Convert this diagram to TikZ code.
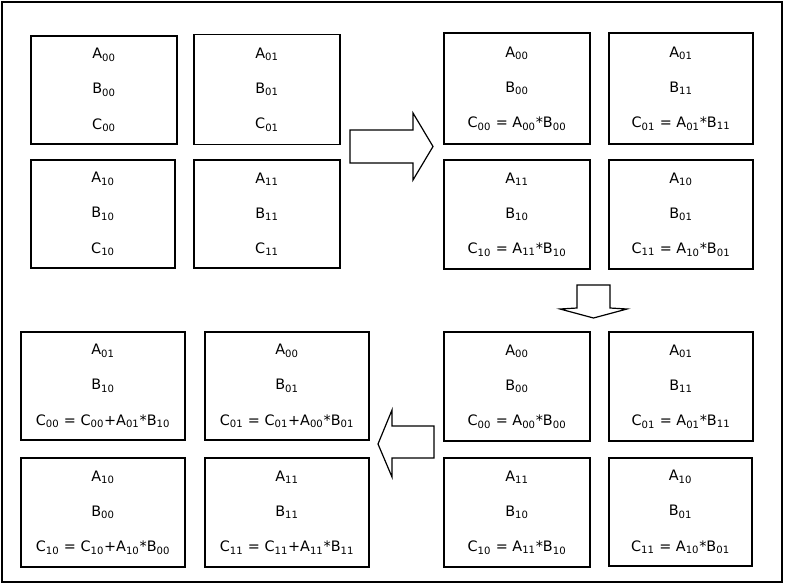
\documentclass[tikz,border=0pt]{standalone}
\usepackage{fontspec}
\setmainfont{DejaVu Sans}
\newcommand\sbs[1]{\textsubscript{#1}}
\newcommand\mcell[8]{%
  \node[cell, minimum width=#4*0.75pt, minimum height=#5*0.75pt] (#1) at (#2,#3) {};
  \node[txt] at ([yshift=26.25pt]#1.center) {#6};
  \node[txt] at (#1.center) {#7};
  \node[txt] at ([yshift=-26.25pt]#1.center) {#8};
}
\tikzset{
  cell/.style={draw=black, line width=1.4pt, rectangle, inner sep=0pt},
  txt/.style={inner sep=0pt, font=\fontsize{10.8}{13}\selectfont, text=black},
  blockarrow/.style={draw=black, line width=0.9pt, fill=white, line join=miter},
  frame/.style={draw=black, line width=1.4pt}
}
\begin{document}
\begin{tikzpicture}[x=0.75pt, y=-0.75pt]
\useasboundingbox (0,0) rectangle (785,586);
\draw[frame] (2,2) rectangle (782,582);
% top left
\mcell{tla}{104}{90}{146}{108}{A\sbs{00}}{B\sbs{00}}{C\sbs{00}}
\mcell{tlb}{267}{89.5}{146}{110}{A\sbs{01}}{B\sbs{01}}{C\sbs{01}}
\mcell{tlc}{103}{214}{144}{108}{A\sbs{10}}{B\sbs{10}}{C\sbs{10}}
\mcell{tld}{267}{214}{146}{108}{A\sbs{11}}{B\sbs{11}}{C\sbs{11}}
% top right
\mcell{tra}{517}{88.5}{146}{111}{A\sbs{00}}{B\sbs{00}}{C\sbs{00} = A\sbs{00}*B\sbs{00}}
\mcell{trb}{681}{88.5}{144}{111}{A\sbs{01}}{B\sbs{11}}{C\sbs{01} = A\sbs{01}*B\sbs{11}}
\mcell{trc}{517}{214.5}{146}{109}{A\sbs{11}}{B\sbs{10}}{C\sbs{10} = A\sbs{11}*B\sbs{10}}
\mcell{trd}{681}{214.5}{144}{109}{A\sbs{10}}{B\sbs{01}}{C\sbs{11} = A\sbs{10}*B\sbs{01}}
% bottom right
\mcell{bra}{517}{386.5}{146}{109}{A\sbs{00}}{B\sbs{00}}{C\sbs{00} = A\sbs{00}*B\sbs{00}}
\mcell{brb}{681}{386.5}{144}{109}{A\sbs{01}}{B\sbs{11}}{C\sbs{01} = A\sbs{01}*B\sbs{11}}
\mcell{brc}{517}{512.5}{146}{109}{A\sbs{11}}{B\sbs{10}}{C\sbs{10} = A\sbs{11}*B\sbs{10}}
\mcell{brd}{680.5}{512}{143}{108}{A\sbs{10}}{B\sbs{01}}{C\sbs{11} = A\sbs{10}*B\sbs{01}}
% bottom left
\mcell{bla}{103}{386}{164}{108}{A\sbs{01}}{B\sbs{10}}{C\sbs{00} = C\sbs{00}+A\sbs{01}*B\sbs{10}}
\mcell{blb}{287}{386}{164}{108}{A\sbs{00}}{B\sbs{01}}{C\sbs{01} = C\sbs{01}+A\sbs{00}*B\sbs{01}}
\mcell{blc}{103}{512.5}{164}{109}{A\sbs{10}}{B\sbs{00}}{C\sbs{10} = C\sbs{10}+A\sbs{10}*B\sbs{00}}
\mcell{bld}{287}{512.5}{164}{109}{A\sbs{11}}{B\sbs{11}}{C\sbs{11} = C\sbs{11}+A\sbs{11}*B\sbs{11}}
% block arrows
\draw[blockarrow] (350,130) -- (413,130) -- (413,113) -- (433,146.5) -- (413,180) -- (413,163) -- (350,163) -- cycle;
\draw[blockarrow] (577,285) -- (610,285) -- (610,308) -- (627,309) -- (593.5,318) -- (560,309) -- (577,308) -- cycle;
\draw[blockarrow] (434,426) -- (392,426) -- (392,410) -- (378,444) -- (392,477) -- (392,458) -- (434,458) -- cycle;
\end{tikzpicture}
\end{document}
